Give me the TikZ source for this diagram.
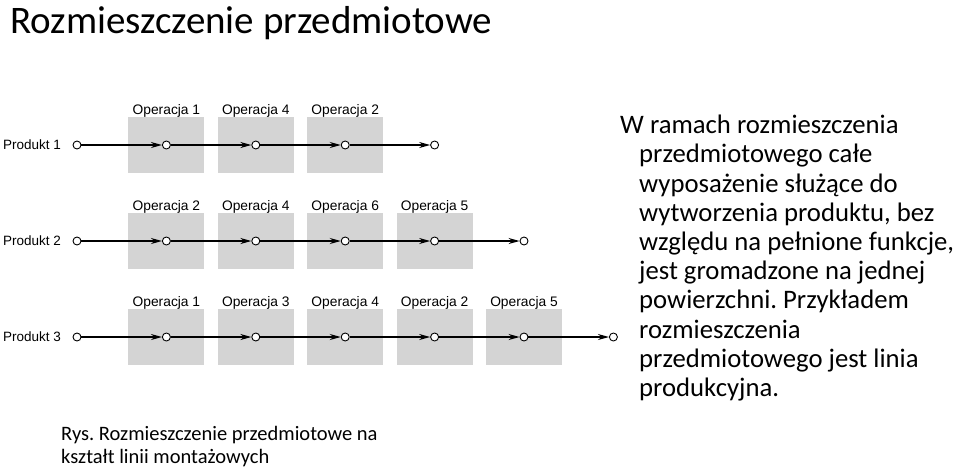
\documentclass[tikz,border=0pt]{standalone}
\usepackage{fontspec}
\setmainfont{Carlito}
\newfontfamily\arialfont{Liberation Sans}
\usetikzlibrary{arrows.meta}
\frenchspacing
\begin{document}
\begin{tikzpicture}[x=1pt, y=-1pt, line join=round, >={Stealth[length=11pt,width=6pt]}]
\tikzset{
  opbox/.style={fill=black!17, minimum width=76pt, minimum height=56pt, inner sep=0pt},
  oplabel/.style={font=\arialfont\fontsize{13.8}{15}\selectfont, inner sep=1pt, anchor=south},
  stn/.style={circle, draw, fill=white, line width=0.9pt, inner sep=0pt, minimum size=8pt},
  flow/.style={->, line width=1.3pt}
}
\def\xo{77} \def\dx{89.4}
\useasboundingbox (0,0) rectangle (960,467);
% title
\node[anchor=base west, inner sep=0pt, font=\fontsize{39}{44}\selectfont] (title) at (10,33.5) {Rozmieszczenie przedmiotowe};
% rows: number / y / count / operations
\foreach \r/\y/\n/\ops in {1/145/3/{1,4,2}, 2/241/4/{2,4,6,5}, 3/337/5/{1,3,4,2,5}}{
  \node[anchor=east, inner sep=0pt, font=\arialfont\fontsize{13.5}{15}\selectfont] (prod\r) at (61,\y) {Produkt \r};
  \node[stn] (s\r-0) at (\xo,\y) {};
  \foreach \o [count=\i] in \ops {
    \node[opbox] (b\r-\i) at ({\xo+\i*\dx},\y) {};
    \node[oplabel] (l\r-\i) at ([yshift=-2pt]b\r-\i.north) {Operacja \o};
    \node[stn] (s\r-\i) at (b\r-\i.center) {};
  }
  \pgfmathtruncatemacro\m{\n+1}
  \node[stn] (s\r-\m) at ({\xo+\m*\dx},\y) {};
  \foreach \i in {1,...,\m}{
    \pgfmathtruncatemacro\j{\i-1}
    \draw[flow] (s\r-\j) -- (s\r-\i);
  }
}
% text on the right (base = last line)
\node[anchor=base west, align=left, inner sep=0pt, font=\fontsize{26.7}{29.2}\selectfont] (txt) at (639,396.5)
  {\hspace*{-19pt}W ramach rozmieszczenia\\
   przedmiotowego całe\\
   wyposażenie służące do\\
   wytworzenia produktu, bez\\
   względu na pełnione funkcje,\\
   jest gromadzone na jednej\\
   powierzchni. Przykładem\\
   rozmieszczenia\\
   przedmiotowego jest linia\\
   produkcyjna.};
% caption
\node[anchor=base west, align=left, inner sep=0pt, font=\fontsize{20.5}{23}\selectfont] (cap) at (61,463)
  {Rys. Rozmieszczenie przedmiotowe na\\
   kształt linii montażowych};
\end{tikzpicture}
\end{document}
